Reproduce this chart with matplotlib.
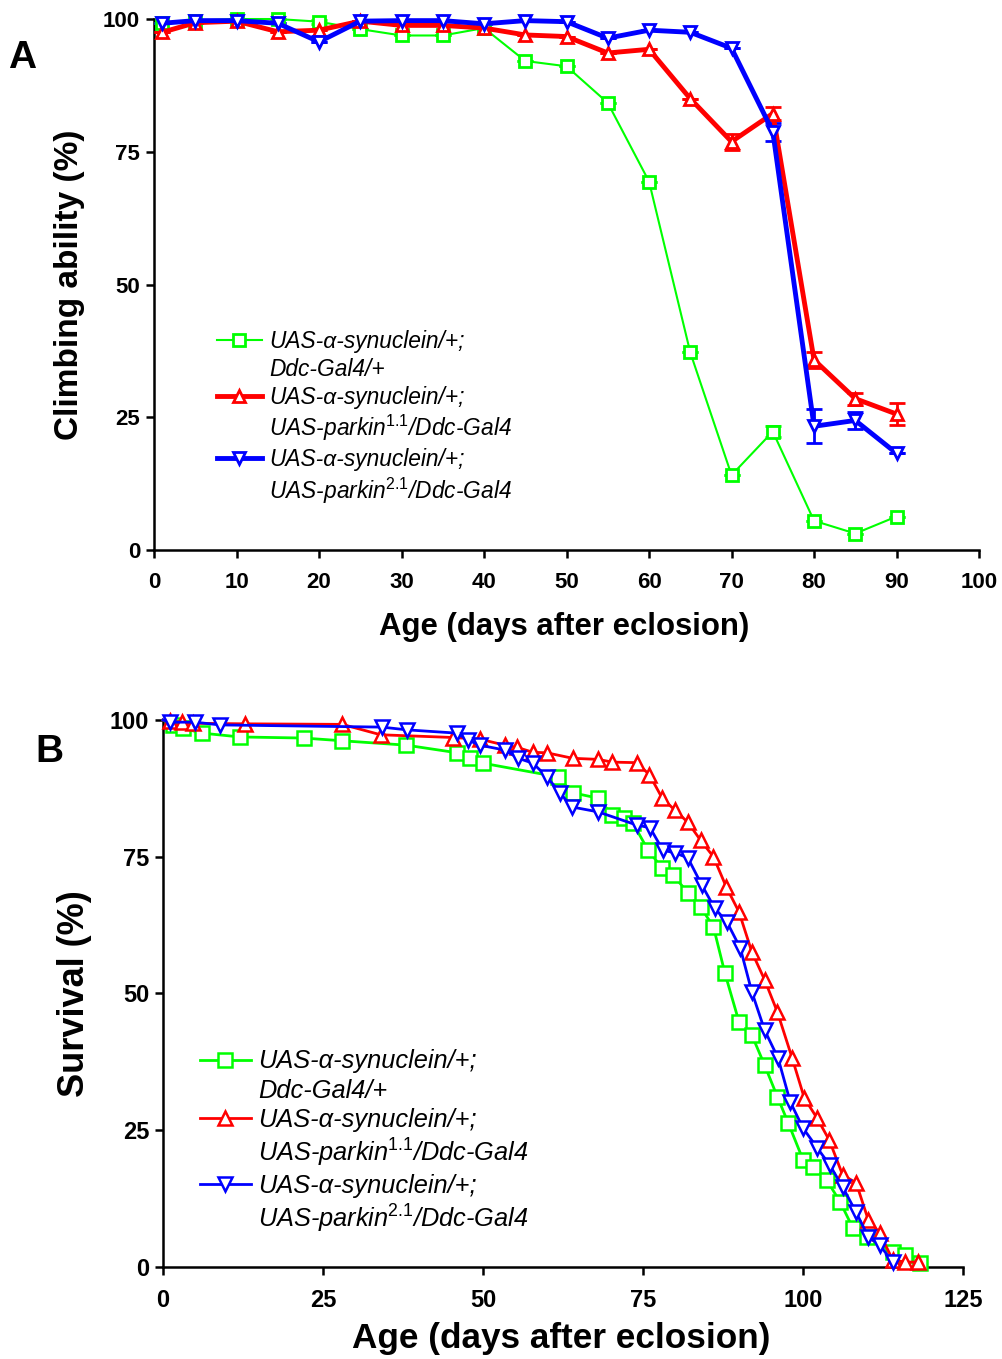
import matplotlib
matplotlib.use("Agg")
import matplotlib.pyplot as plt
from matplotlib.lines import Line2D

plt.rcParams["font.family"] = ["Liberation Sans", "DejaVu Sans"]
plt.rcParams["mathtext.fontset"] = "custom"
plt.rcParams["mathtext.rm"] = "Liberation Sans"
plt.rcParams["mathtext.it"] = "Liberation Sans:italic"

# ---- Panel A: climbing ability ----
age_a = [1, 5, 10, 15, 20, 25, 30, 35, 40, 45, 50, 55, 60, 65, 70, 75, 80, 85, 90]
climb_green = [99.2, 99.7, 100, 100, 99.5, 98.1, 96.9, 96.9, 98.3, 92.1, 91.1, 84.2,
               69.4, 37.2, 14.1, 22.3, 5.5, 3.1, 6.3]
climb_red = [97.5, 99.3, 99.6, 97.6, 97.9, 99.6, 98.8, 98.8, 98.3, 97.0, 96.7, 93.6,
             94.3, 85.0, 76.9, 82.2, 35.8, 28.5, 25.6]
climb_blue = [99.2, 99.7, 99.7, 99.2, 95.7, 99.6, 99.7, 99.7, 99.1, 99.7, 99.5, 96.4,
              97.9, 97.5, 94.5, 78.8, 23.3, 24.4, 18.2]
err_green = [0, 0, 0, 0, 0.4, 0, 0, 0, 0, 0, 0, 0, 0, 0, 0, 1.0, 0, 0, 0]
err_red = [0, 0, 0, 0, 0, 0, 0, 0, 0, 0, 0, 0, 0, 0, 1.5, 1.3, 1.5, 1.1, 2.0]
err_blue = [0, 0, 0, 0, 0, 0, 0, 0, 0, 0, 0, 0, 0, 0, 0, 1.7, 3.2, 1.6, 0]

# ---- Panel B: survival ----
surv_x_green = [0, 1.6, 3.1, 6.1, 12, 22, 28, 38, 46, 48, 50, 61.7, 64, 68, 70.2, 72,
                73.4, 75.8, 78, 79.7, 82, 84, 86, 87.8, 90, 92, 94, 96, 97.7, 100,
                101.6, 103.7, 105.8, 107.8, 110, 114, 116, 118.3]
surv_green = [100, 99.1, 98.5, 97.6, 96.9, 96.7, 96.2, 95.4, 94.0, 93.0, 92.1, 89.6,
              86.7, 85.7, 82.6, 82.0, 81.2, 76.2, 72.9, 71.7, 68.4, 65.8, 62.2, 53.7,
              44.8, 42.4, 36.9, 31.1, 26.3, 19.6, 18.3, 15.9, 11.9, 7.1, 5.5, 2.7,
              2.2, 0.7]
surv_x_red = [0, 1.1, 3, 4.7, 12.8, 28, 34, 45.3, 49.5, 53.4, 55.3, 57.8, 60, 64, 68,
              70.2, 74, 76, 78, 80, 82, 84, 86, 88, 90, 92, 94, 96, 98.3, 100.2, 102.2,
              104.1, 106.2, 108.3, 110.2, 112, 114, 116, 118]
surv_red = [100, 99.8, 99.6, 99.4, 99.3, 99.2, 97.3, 96.8, 96.5, 95.4, 95.0, 94.1,
            94.0, 93.0, 92.8, 92.3, 92.2, 90.0, 85.7, 83.5, 81.3, 78.0, 75.0, 69.5,
            64.9, 57.6, 52.5, 46.6, 38.2, 30.9, 27.2, 23.2, 16.8, 15.4, 8.6, 6.2,
            1.3, 0.9, 0.9]
surv_x_blue = [0, 1.1, 5, 8.9, 34.2, 38.1, 45.9, 47.7, 49.5, 53.4, 55.5, 57.8, 60, 62,
               63.9, 68, 74, 76.1, 78.1, 80, 82, 84.2, 86.2, 88.1, 90.2, 92, 94, 96.1,
               98, 100, 102.2, 104.2, 106.2, 108.3, 110.2, 112, 114]
surv_blue = [100, 99.6, 99.6, 99.1, 98.7, 98.2, 97.6, 96.3, 95.4, 94.5, 93.0, 92.1,
             89.6, 86.7, 84.1, 83.2, 80.8, 80.3, 76.2, 75.7, 74.8, 69.8, 65.6, 63.1,
             58.3, 50.3, 43.3, 38.2, 30.2, 25.4, 21.8, 18.6, 14.6, 10.0, 5.5, 4.0, 0.9]

# legend text, first and second line of each genotype
label_first = ["UAS-α-synuclein/+;"] * 3
label_second = [
    "Ddc-Gal4/+",
    "UAS-parkin$^{\\mathit{1.1}}$/Ddc-Gal4",
    "UAS-parkin$^{\\mathit{2.1}}$/Ddc-Gal4",
]
colors = ["#00ff00", "#ff0000", "#0000ff"]
markers = ["s", "^", "v"]


def style_axes(ax, xlim, xticks):
    ax.set_xlim(*xlim)
    ax.set_ylim(0, 100)
    ax.set_xticks(xticks)
    ax.set_yticks([0, 25, 50, 75, 100])
    for side in ["top", "right"]:
        ax.spines[side].set_visible(False)
    for side in ["left", "bottom"]:
        ax.spines[side].set_linewidth(1.8)
    ax.tick_params(axis="both", direction="out", length=6, width=1.8)
    ax.tick_params(axis="x", pad=10)
    ax.tick_params(axis="y", pad=4)
    for lab in ax.get_xticklabels() + ax.get_yticklabels():
        lab.set_fontweight("bold")
        lab.set_fontsize(16)


def two_line_legend(ax, handles, anchor, size):
    # one entry per text line so each symbol sits on the first line
    blank = Line2D([], [], color="none")
    hs, ls = [], []
    for h, l1, l2 in zip(handles, label_first, label_second):
        hs += [h, blank]
        ls += [l1, l2]
    return ax.legend(hs, ls, loc="upper left", bbox_to_anchor=anchor, frameon=False,
                     prop={"style": "italic", "size": size}, handlelength=2.0,
                     handletextpad=0.3, labelspacing=0.2, borderpad=0)


fig = plt.figure(figsize=(10.02, 13.59), dpi=100)

# Panel A
ax1 = fig.add_axes([0.1537, 0.5953, 0.8234, 0.3907])
series_a = [(climb_green, err_green, 1.5), (climb_red, err_red, 3.5), (climb_blue, err_blue, 3.5)]
handles_a = []
for (vals, errs, lw), c, m in zip(series_a, colors, markers):
    eb = ax1.errorbar(age_a, vals, yerr=errs, color=c, lw=lw, marker=m, ms=9,
                      mfc="white", mec=c, mew=2, capsize=6, capthick=2, elinewidth=2,
                      clip_on=False, zorder=3)
    handles_a.append(eb[0])
style_axes(ax1, (0, 100), range(0, 101, 10))
ax1.set_ylabel("Climbing ability (%)", fontsize=24, fontweight="bold")
ax1.yaxis.set_label_coords(-0.084, 0.5)
ax1.set_xlabel("Age (days after eclosion)", fontsize=22.4, fontweight="bold", va="top")
ax1.xaxis.set_label_coords(0.497, -0.117)
two_line_legend(ax1, handles_a, (0.062, 0.435), 16.4)
fig.text(0.008, 0.957, "A", fontsize=28, fontweight="bold", va="center")

# Panel B
ax2 = fig.add_axes([0.1627, 0.0677, 0.7984, 0.4025])
series_b = [(surv_x_green, surv_green), (surv_x_red, surv_red), (surv_x_blue, surv_blue)]
handles_b = []
for (xs, ys), c, m in zip(series_b, colors, markers):
    ln, = ax2.plot(xs, ys, color=c, lw=2, marker=m, ms=10, mfc="white", mec=c, mew=1.8,
                   markevery=slice(1, None), clip_on=False, zorder=3)
    handles_b.append(ln)
style_axes(ax2, (0, 125), range(0, 126, 25))
ax2.tick_params(axis="both", labelsize=17)
ax2.set_ylabel("Survival (%)", fontsize=26, fontweight="bold")
ax2.yaxis.set_label_coords(-0.089, 0.5)
ax2.set_xlabel("Age (days after eclosion)", fontsize=25.3, fontweight="bold", va="top")
ax2.xaxis.set_label_coords(0.4975, -0.1)
two_line_legend(ax2, handles_b, (0.03, 0.421), 18.3)
fig.text(0.035, 0.447, "B", fontsize=28, fontweight="bold", va="center")

fig.savefig("out.png", dpi=100)
plt.close(fig)
